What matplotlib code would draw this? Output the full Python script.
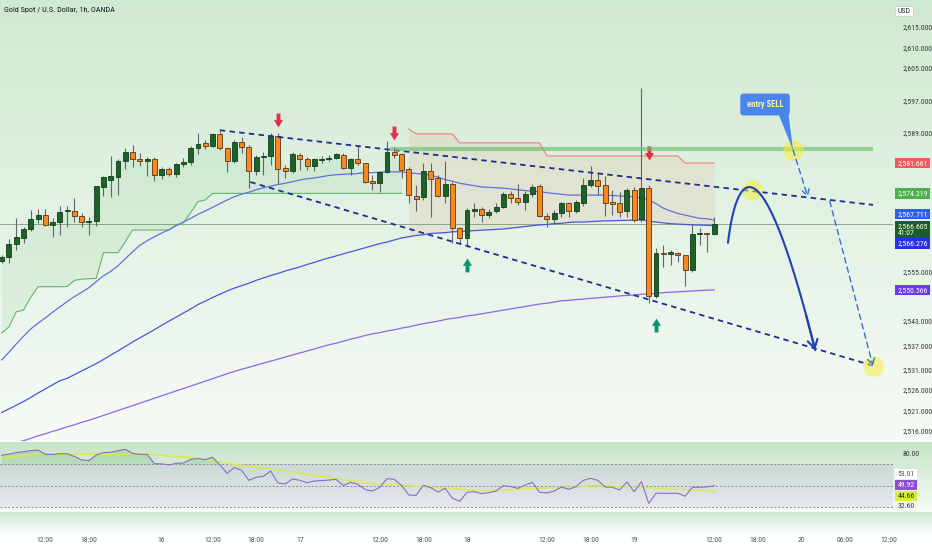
import numpy as np
import matplotlib
matplotlib.use("Agg")
import matplotlib.pyplot as plt
from matplotlib import font_manager as fm
from matplotlib.path import Path
from matplotlib.patches import Polygon
from matplotlib.transforms import blended_transform_factory as btf
from matplotlib.ticker import FuncFormatter

# ---------------- data ----------------
OPENS = [2557.7, 2558.7, 2561.8, 2563.4, 2565.6, 2568.0, 2569.0, 2566.5, 2567.3, 2569.8,
         2570.0, 2568.7, 2567.1, 2567.5, 2575.9, 2577.6, 2578.3, 2582.1, 2584.3, 2582.7,
         2582.1, 2582.6, 2578.8, 2580.1, 2579.0, 2581.4, 2581.8, 2585.4, 2586.5, 2585.9,
         2588.8, 2585.3, 2582.2, 2586.7, 2585.6, 2579.8, 2583.1, 2583.4, 2588.3, 2580.4,
         2579.8, 2583.7, 2582.6, 2581.0, 2582.4, 2582.6, 2583.0, 2583.6, 2580.4, 2582.6,
         2581.6, 2577.3, 2576.8, 2579.4, 2584.4, 2583.8, 2580.1, 2573.6, 2573.3, 2579.8,
         2577.9, 2573.7, 2576.5, 2565.7, 2563.2, 2570.0, 2570.3, 2568.9, 2569.8, 2570.9,
         2574.1, 2573.2, 2572.2, 2574.0, 2576.0, 2568.8, 2567.9, 2569.3, 2571.8, 2569.9,
         2571.8, 2576.3, 2577.5, 2576.3, 2572.0, 2571.8, 2569.9, 2575.05, 2567.9, 2575.6,
         2549.1, 2559.5, 2559.4, 2559.5, 2559.0, 2555.4, 2564.3, 2564.4, 2564.3]
HIGHS = [2559.1, 2563.0, 2568.3, 2566.1, 2570.2, 2570.3, 2570.4, 2568.1, 2571.2, 2571.1,
         2573.0, 2569.3, 2568.5, 2576.1, 2578.5, 2583.4, 2582.6, 2585.3, 2586.1, 2584.0,
         2583.1, 2583.1, 2580.6, 2580.6, 2581.7, 2583.0, 2585.8, 2589.0, 2587.3, 2589.1,
         2589.5, 2585.7, 2587.3, 2588.1, 2586.1, 2583.6, 2584.4, 2589.1, 2589.0, 2581.2,
         2584.3, 2584.2, 2583.1, 2582.8, 2583.4, 2583.6, 2584.0, 2584.2, 2582.8, 2586.1,
         2581.7, 2578.7, 2579.8, 2587.1, 2585.5, 2584.2, 2580.8, 2576.3, 2581.7, 2581.6,
         2578.7, 2582.2, 2577.1, 2566.1, 2570.6, 2571.8, 2571.0, 2570.3, 2571.8, 2574.6,
         2574.8, 2576.5, 2574.8, 2576.5, 2576.5, 2569.3, 2570.2, 2572.2, 2572.2, 2572.6,
         2577.9, 2580.9, 2579.4, 2578.6, 2575.05, 2574.6, 2575.6, 2575.9, 2600.1, 2576.3,
         2560.9, 2561.6, 2560.3, 2559.9, 2559.1, 2566.6, 2565.7, 2564.5, 2568.5]
LOWS = [2557.2, 2557.1, 2560.3, 2562.1, 2565.1, 2566.9, 2566.2, 2563.5, 2564.0, 2565.9,
        2567.2, 2565.9, 2563.9, 2566.3, 2573.6, 2573.3, 2573.8, 2580.2, 2580.8, 2580.9,
        2578.6, 2577.3, 2577.8, 2578.5, 2578.2, 2580.8, 2581.3, 2583.9, 2585.2, 2585.5,
        2584.9, 2579.5, 2581.6, 2584.2, 2575.5, 2578.7, 2578.7, 2581.2, 2576.5, 2577.9,
        2579.1, 2580.0, 2580.0, 2579.8, 2581.7, 2582.2, 2582.6, 2580.1, 2578.7, 2581.2,
        2576.7, 2575.05, 2574.6, 2579.1, 2582.8, 2577.9, 2571.9, 2570.0, 2572.6, 2568.5,
        2573.3, 2571.8, 2562.1, 2561.8, 2561.2, 2568.5, 2567.3, 2568.1, 2569.4, 2570.6,
        2571.8, 2571.4, 2570.2, 2573.4, 2568.4, 2566.1, 2566.9, 2568.5, 2568.5, 2569.3,
        2571.2, 2575.9, 2573.8, 2568.8, 2568.9, 2568.5, 2568.5, 2567.1, 2567.3, 2547.3,
        2548.5, 2556.25, 2556.7, 2557.5, 2551.5, 2555.0, 2561.6, 2559.9, 2564.0]
CLOSES = [2558.7, 2561.8, 2563.5, 2565.6, 2568.0, 2569.0, 2566.5, 2567.3, 2569.7, 2570.1,
          2568.7, 2567.1, 2567.4, 2576.0, 2578.2, 2578.5, 2582.2, 2584.3, 2582.6, 2582.1,
          2582.6, 2578.7, 2580.1, 2579.0, 2581.4, 2581.9, 2585.4, 2586.3, 2585.8, 2588.7,
          2585.3, 2582.2, 2586.7, 2585.5, 2579.8, 2583.1, 2583.4, 2588.3, 2580.2, 2579.8,
          2583.8, 2582.6, 2581.0, 2582.6, 2582.6, 2583.0, 2583.9, 2580.4, 2582.6, 2581.6,
          2577.1, 2576.8, 2579.4, 2584.3, 2583.7, 2580.0, 2573.8, 2572.9, 2579.8, 2577.8,
          2573.7, 2576.5, 2565.7, 2563.2, 2570.2, 2570.3, 2568.9, 2569.7, 2570.9, 2574.1,
          2573.2, 2572.2, 2574.0, 2575.9, 2568.8, 2567.9, 2569.3, 2571.8, 2569.9, 2572.0,
          2576.3, 2577.5, 2576.1, 2571.8, 2571.7, 2569.7, 2575.05, 2567.7, 2575.6, 2549.1,
          2559.5, 2559.3, 2559.8, 2559.0, 2555.4, 2564.3, 2564.4, 2564.3, 2566.605]

MA_FAST = [2533.4, 2535.3, 2537.3, 2539.2, 2541.0, 2542.4, 2543.7, 2545.1, 2546.4, 2547.7,
           2548.9, 2550.0, 2551.1, 2552.6, 2554.0, 2555.1, 2556.5, 2558.2, 2559.9, 2561.5,
           2562.6, 2563.6, 2564.5, 2565.3, 2566.3, 2567.2, 2568.1, 2569.1, 2569.9, 2570.8,
           2571.7, 2572.6, 2573.4, 2574.0, 2574.5, 2575.1, 2575.6, 2576.0, 2576.4, 2576.7,
           2577.1, 2577.5, 2577.8, 2578.0, 2578.3, 2578.6, 2578.8, 2578.9, 2579.0, 2579.1,
           2579.3, 2579.3, 2579.4, 2579.5, 2579.5, 2579.5, 2579.3, 2579.1, 2578.9, 2578.7,
           2578.2, 2577.6, 2577.2, 2576.7, 2576.4, 2576.1, 2575.8, 2575.7, 2575.6, 2575.5,
           2575.3, 2575.1, 2574.9, 2574.8, 2574.6, 2574.4, 2574.2, 2574.0, 2573.8, 2573.8,
           2573.8, 2573.8, 2573.8, 2573.8, 2573.7, 2573.6, 2573.5, 2573.4, 2573.1, 2572.7,
           2571.7, 2570.6, 2569.9, 2569.3, 2568.9, 2568.5, 2568.1, 2568.0, 2567.711]
MA_MID = [2520.5, 2521.4, 2522.3, 2523.2, 2524.2, 2525.3, 2526.3, 2527.3, 2528.3, 2528.9,
          2529.8, 2530.7, 2531.6, 2532.5, 2533.5, 2534.6, 2535.6, 2536.7, 2537.8, 2538.8,
          2539.8, 2540.8, 2541.9, 2542.9, 2543.9, 2544.9, 2545.9, 2547.0, 2547.8, 2548.7,
          2549.5, 2550.3, 2551.0, 2551.6, 2552.2, 2552.9, 2553.5, 2554.1, 2554.6, 2555.2,
          2555.7, 2556.2, 2556.8, 2557.3, 2557.9, 2558.4, 2558.9, 2559.4, 2559.9, 2560.4,
          2560.9, 2561.4, 2561.9, 2562.3, 2562.8, 2563.3, 2563.6, 2563.9, 2564.1, 2564.4,
          2564.5, 2564.6, 2564.8, 2564.9, 2565.0, 2565.1, 2565.2, 2565.3, 2565.4, 2565.5,
          2565.7, 2565.9, 2566.1, 2566.3, 2566.5, 2566.6, 2566.8, 2566.9, 2567.1, 2567.2,
          2567.2, 2567.3, 2567.4, 2567.5, 2567.5, 2567.6, 2567.6, 2567.7, 2567.7, 2567.4,
          2567.2, 2567.0, 2566.8, 2566.7, 2566.6, 2566.5, 2566.45, 2566.4, 2566.276]
MA_SLOW = [2512.0, 2512.5, 2513.1, 2513.6, 2514.2, 2514.8, 2515.3, 2515.9, 2516.4, 2517.0,
           2517.5, 2518.1, 2518.6, 2519.2, 2519.8, 2520.4, 2521.0, 2521.6, 2522.2, 2522.8,
           2523.4, 2524.0, 2524.6, 2525.2, 2525.8, 2526.4, 2527.0, 2527.6, 2528.2, 2528.8,
           2529.4, 2530.0, 2530.6, 2531.1, 2531.6, 2532.1, 2532.6, 2533.1, 2533.6, 2534.1,
           2534.6, 2535.1, 2535.6, 2536.1, 2536.6, 2537.1, 2537.5, 2538.0, 2538.5, 2538.9,
           2539.4, 2539.8, 2540.1, 2540.5, 2540.8, 2541.2, 2541.5, 2541.9, 2542.3, 2542.6,
           2542.9, 2543.3, 2543.6, 2543.8, 2544.2, 2544.4, 2544.7, 2545.0, 2545.3, 2545.6,
           2545.9, 2546.2, 2546.5, 2546.8, 2547.1, 2547.3, 2547.6, 2547.9, 2548.0, 2548.2,
           2548.3, 2548.5, 2548.6, 2548.8, 2548.9, 2549.1, 2549.2, 2549.3, 2549.5, 2549.6,
           2549.7, 2549.9, 2550.0, 2550.1, 2550.2, 2550.3, 2550.4, 2550.5, 2550.566]

# supertrend: bullish segment (bars 0..55) and bearish segment (bars 56..98)
ST_UP = ([2540.0, 2541.5, 2545.2, 2545.6, 2548.8, 2551.35, 2551.35, 2551.35, 2551.35, 2551.4,
          2552.9, 2553.2, 2553.3, 2553.4, 2559.7, 2559.7, 2559.7, 2562.4, 2565.25, 2565.25,
          2565.25, 2565.25, 2565.25, 2565.25, 2566.5, 2567.0, 2569.5, 2572.2, 2572.6]
         + [2574.22] * 27)
ST_DN = [2590.0] + [2588.8] * 6 + [2586.6] * 12 + [2583.4] * 19 + [2581.661] * 5
ST_DN_START = 56

RSI = [78.4, 79.5, 80.9, 81.8, 82.7, 83.4, 79.3, 79.2, 79.9, 79.8,
       77.4, 74.0, 73.4, 78.7, 80.9, 81.2, 82.7, 84.0, 80.2, 79.3,
       79.3, 70.6, 70.4, 69.4, 70.9, 71.2, 74.6, 75.4, 74.3, 76.5,
       69.7, 61.6, 66.9, 64.4, 55.0, 57.8, 58.8, 63.7, 52.5, 51.6,
       56.3, 55.0, 52.8, 54.4, 54.7, 55.3, 55.9, 50.0, 53.1, 51.3,
       46.3, 45.0, 48.5, 56.6, 55.9, 50.3, 41.3, 41.0, 50.3, 48.2,
       44.1, 47.5, 38.2, 35.4, 43.8, 44.4, 42.6, 43.5, 45.0, 50.0,
       49.1, 47.5, 50.6, 53.1, 43.8, 43.2, 45.0, 48.8, 46.6, 49.1,
       55.0, 56.9, 55.0, 48.8, 48.5, 46.0, 53.5, 44.4, 53.8, 33.5,
       42.9, 42.9, 42.9, 42.9, 40.1, 48.5, 48.5, 48.8, 49.92]
RSI_MA = ([75.3, 76.5, 77.4, 78.4, 79.3] + [79.6] * 16 +
          [79.0, 78.4, 77.9, 77.3, 76.8, 76.2, 75.6, 74.6, 73.4,
           72.2, 70.9, 70.0, 69.0, 68.1, 67.2, 66.5, 65.6, 64.7, 63.7,
           62.5, 61.6, 60.6, 59.7, 58.8, 57.8, 56.6, 55.6, 54.7, 53.8,
           52.5, 51.9, 51.6, 51.3, 51.0, 50.6, 50.0, 49.4, 49.1, 48.5,
           47.9, 47.5, 47.2, 46.6, 46.3, 45.7, 45.4, 45.4, 45.7, 46.0,
           46.3, 46.6, 47.2, 47.5, 47.5, 47.9, 48.2, 48.2, 48.5, 48.8,
           49.4, 50.0, 50.0, 49.7, 49.4, 49.1, 49.1, 48.8, 48.5, 47.9,
           47.5, 47.2, 46.9, 46.6, 46.3, 46.0, 45.7, 45.4, 44.66])

PRICE_TICKS = [2615, 2610, 2605, 2597, 2589, 2555, 2543, 2537, 2531, 2526, 2521, 2516]
TIME_TICK_BARS = [6, 12, 22, 29, 35, 41, 52, 58, 64, 75, 81, 87, 98, 104, 110, 116, 122]
TIME_TICK_LABELS = ["12:00", "18:00", "16", "12:00", "18:00", "17", "12:00", "18:00", "18",
                    "12:00", "18:00", "19", "12:00", "18:00", "20", "06:00", "12:00"]
LAST_PRICE = 2566.605
RESISTANCE = 2585.0

# drawing-tool anchors (bar index, price)
TREND_UPPER = [(30.0, 2589.7), (119.85, 2571.4)]
TREND_LOWER = [(34.2, 2577.0), (119.85, 2532.0)]
RESIST_SPAN = (53.4, 119.85)
SELL_ARROWS = [(38, 2592.2), (54, 2589.1), (89, 2584.0)]
BUY_ARROWS = [(64, 2556.7), (90, 2542.0)]
CURVE = [(99.9, 2562.1), (101.3, 2582.4), (105.0, 2584.9), (111.9, 2535.8)]
DASH_A = [(108.85, 2584.85), (110.9, 2573.3)]
DASH_B = [(113.9, 2572.3), (119.85, 2531.9)]
CIRCLES = [(108.85, 2584.85), (103.2, 2575.05), (119.85, 2531.9)]
CALLOUT = (105.0, 2596.0)
CALLOUT_TAIL = [(106.8, 2593.9), (108.2, 2593.9), (108.85, 2584.85)]

# ---------------- fonts ----------------
names = {f.name for f in fm.fontManager.ttflist}
FONT, STRETCH, FS = "DejaVu Sans", "condensed", 5.0
for cand in ["Liberation Sans Narrow", "Roboto Condensed", "Open Sans Condensed"]:
    if cand in names:
        FONT, STRETCH, FS = cand, "normal", 5.6
        break
plt.rcParams["font.family"] = [FONT, "DejaVu Sans"]
plt.rcParams["font.stretch"] = STRETCH

W, H, DPI = 932, 550, 100
fig = plt.figure(figsize=(W / DPI, H / DPI), dpi=DPI)

# ---------------- background gradients ----------------
def hx(hc):
    return np.array([int(hc[i:i + 2], 16) / 255 for i in (1, 3, 5)])

img = np.ones((H, 1, 3))
def grad(y0, y1, c0, c1):
    for yy in range(y0, y1):
        tt = (yy - y0) / max(1, (y1 - y0 - 1))
        img[yy, 0] = (1 - tt) * hx(c0) + tt * hx(c1)
grad(0, 442, "#d0e9d2", "#f7fbf7")
grad(442, 512, "#c6e4c8", "#f6fbf6")
grad(512, 536, "#d0e9d2", "#ffffff")
bg = fig.add_axes([0, 0, 1, 1])
bg.imshow(img, aspect="auto", extent=[0, 1, 0, 1], interpolation="bilinear")
bg.set_xlim(0, 1); bg.set_ylim(0, 1)
bg.set_axis_off()
bg.set_zorder(-10)

XLIM = (-0.234, 122.6)
ax = fig.add_axes([0, 109 / H, 893 / W, 441 / H])
ax.set_facecolor("none")
ax.set_xlim(*XLIM)
ax.set_ylim(2513.53, 2621.62)
for s in ax.spines.values():
    s.set_visible(False)

o, h, l, c = map(np.array, (OPENS, HIGHS, LOWS, CLOSES))
x = np.arange(len(o))

# supertrend fills and lines
up_idx = np.arange(len(ST_UP))
mid = (o + c) / 2
ax.fill_between(up_idx, ST_UP, mid[:len(ST_UP)], color="#4caf50", alpha=0.09, lw=0, zorder=1)
ax.plot(up_idx, ST_UP, color="#5cb060", lw=0.8, alpha=0.9, zorder=2)
dn_idx = np.arange(ST_DN_START, ST_DN_START + len(ST_DN))
ax.fill_between(dn_idx, ST_DN, np.array(MA_MID)[dn_idx], color="#e09a78", alpha=0.15, lw=0, zorder=1)
ax.plot(dn_idx, ST_DN, color="#ef6a6a", lw=0.8, alpha=0.85, zorder=2)

# moving averages
ax.plot(x, MA_FAST, color="#6172dc", lw=0.9, zorder=3)
ax.plot(x, MA_MID, color="#4a56da", lw=0.9, zorder=3)
ax.plot(x, MA_SLOW, color="#8e66e8", lw=0.9, zorder=3)

# last price line
ax.axhline(LAST_PRICE, color="#7f9f80", lw=0.7, alpha=0.9, zorder=2)

# candles
upm = c >= o
ax.vlines(x, l, h, color="#62666a", lw=0.8, zorder=4)
bot = np.minimum(o, c)
hgt = np.maximum(np.abs(c - o), 0.08)
ax.bar(x[upm], hgt[upm], bottom=bot[upm], width=0.68, color="#1d6329",
       edgecolor="#123d19", lw=0.6, zorder=5)
ax.bar(x[~upm], hgt[~upm], bottom=bot[~upm], width=0.68, color="#f8891e",
       edgecolor="#5a3414", lw=0.6, zorder=5)

# arrows (block markers)
down_arrow = Path([(-0.28, 1), (0.28, 1), (0.28, 0.05), (0.66, 0.05), (0, -1),
                   (-0.66, 0.05), (-0.28, 0.05), (-0.28, 1)], closed=True)
up_arrow = Path([(-0.28, -1), (0.28, -1), (0.28, -0.05), (0.66, -0.05), (0, 1),
                 (-0.66, -0.05), (-0.28, -0.05), (-0.28, -1)], closed=True)
for bx, py in SELL_ARROWS:
    ax.plot(bx, py, marker=down_arrow, ms=10, color="#e0304a", mec="none", zorder=8)
for bx, py in BUY_ARROWS:
    ax.plot(bx, py, marker=up_arrow, ms=10, color="#0b9474", mec="none", zorder=8)

# resistance band
ax.hlines(RESISTANCE, *RESIST_SPAN, color="#6cbf70", lw=3.0, alpha=0.65, zorder=9)

# dashed channel
for seg in (TREND_UPPER, TREND_LOWER):
    ax.plot([seg[0][0], seg[1][0]], [seg[0][1], seg[1][1]], color="#1f2d8c", lw=1.3,
            dashes=(3, 2.4), zorder=7)

# yellow circles
for cx, cy in CIRCLES:
    ax.scatter([cx], [cy], s=220, color="#f3ef3c", alpha=0.55, lw=0, zorder=10)

# projection curve (cubic bezier drawing)
P = np.array(CURVE)
t = np.linspace(0, 1, 80)[:, None]
B = ((1 - t) ** 3) * P[0] + 3 * t * (1 - t) ** 2 * P[1] + 3 * t ** 2 * (1 - t) * P[2] + t ** 3 * P[3]
ax.plot(B[:, 0], B[:, 1], color="#1f42b4", lw=1.5, zorder=11, solid_capstyle="round")
ax.annotate("", xy=tuple(B[-1]), xytext=tuple(B[-6]),
            arrowprops=dict(arrowstyle="->,head_length=0.5,head_width=0.3", color="#1f42b4",
                            lw=1.5, shrinkA=0, shrinkB=0, mutation_scale=12), zorder=11)

# dashed projections
for seg in (DASH_A, DASH_B):
    ax.annotate("", xy=seg[1], xytext=seg[0],
                arrowprops=dict(arrowstyle="->,head_length=0.45,head_width=0.25", color="#3a6ed6",
                                lw=1.0, ls=(0, (4, 3)), shrinkA=0, shrinkB=0, mutation_scale=10),
                zorder=11)

# callout
ax.add_patch(Polygon(CALLOUT_TAIL, closed=True, fc="#4a86ea", ec="none", zorder=12))
ax.text(CALLOUT[0], CALLOUT[1], "entry SELL", ha="center", va="center", fontsize=FS + 0.6,
        fontweight="bold", color="#f4f6a6", zorder=13,
        bbox=dict(boxstyle="round,pad=0.75,rounding_size=0.4", fc="#4a86ea", ec="none"))

# price axis
ax.set_xticks([])
ax.set_yticks(PRICE_TICKS)
ax.yaxis.set_major_formatter(FuncFormatter(lambda v, p: f"{v:,.3f}"))
ax.tick_params(axis="y", left=False, right=False, labelleft=False, labelright=True,
               pad=3.5, labelsize=FS, labelcolor="#3a3a3a")

tp = btf(ax.transAxes, ax.transData)
LX = 897.5 / 893
def plabel(y, txt, fc, tc="white", ec="none"):
    ax.text(LX, y, txt, transform=tp, ha="left", va="center", fontsize=FS, color=tc,
            clip_on=False, zorder=20, linespacing=1.25,
            bbox=dict(boxstyle="square,pad=0.3", fc=fc, ec=ec, lw=0.5))

plabel(2618.9, "USD", "#ffffff", "#333333", "#c8c8c8")
plabel(ST_DN[-1], f"{ST_DN[-1]:,.3f}", "#ef5a5f")
plabel(ST_UP[-1] - 0.003, "2,574.219", "#4caf50")
plabel(2569.2, f"{MA_FAST[-1]:,.3f}", "#2f5fe6")
plabel(2565.3, f"{LAST_PRICE:,.3f}\n41:07", "#1b5e20")
plabel(2561.9, f"{MA_MID[-1]:,.3f}", "#2a30e8")
plabel(MA_SLOW[-1], f"{MA_SLOW[-1]:,.3f}", "#6b38ea")

fig.text(4 / W, 1 - 10 / H, "Gold Spot / U.S. Dollar, 1h, OANDA", ha="left", va="center",
         fontsize=FS + 0.3, color="#131722")

# ---------------- RSI pane ----------------
rax = fig.add_axes([0, 38 / H, 893 / W, 69 / H])
rax.set_facecolor("none")
rax.set_xlim(*XLIM)
rax.set_ylim(25.4, 89.9)
for s in rax.spines.values():
    s.set_visible(False)
rax.axhspan(30, 70, color="#7e57c2", alpha=0.11, lw=0, zorder=0)
for lvl in (70, 50, 30):
    rax.axhline(lvl, color="#868993", lw=0.7, ls=(0, (2, 2)), zorder=1)
r = np.array(RSI)
rx = np.arange(len(r))
rax.fill_between(rx, 70, r, where=r >= 70, interpolate=True, color="#43a047", alpha=0.2, lw=0, zorder=1)
rax.plot(np.arange(len(RSI_MA)), RSI_MA, color="#dfe84a", lw=1.2, alpha=0.9, zorder=2)
rax.plot(rx, r, color="#8a6cc8", lw=0.8, zorder=3)

rax.set_yticks([80])
rax.yaxis.set_major_formatter(FuncFormatter(lambda v, p: f"{v:.2f}"))
rax.tick_params(axis="y", left=False, right=False, labelleft=False, labelright=True,
                pad=3.5, labelsize=FS, labelcolor="#3a3a3a")
rax.set_xticks(TIME_TICK_BARS)
rax.set_xticklabels(TIME_TICK_LABELS)
rax.tick_params(axis="x", length=0, pad=18, labelsize=FS, labelcolor="#555555")

rp = btf(rax.transAxes, rax.transData)
def rlabel(y, txt, fc, tc, ec="none"):
    rax.text(LX, y, txt, transform=rp, ha="left", va="center", fontsize=FS, color=tc,
             clip_on=False, zorder=20, bbox=dict(boxstyle="square,pad=0.3", fc=fc, ec=ec, lw=0.4))
rlabel(60.9, "53.01", "#ffffff", "#555555")
rlabel(50.6, f"{RSI[-1]:.2f}", "#8e4fcf", "#ffffff")
rlabel(40.4, f"{RSI_MA[-1]:.2f}", "#d6ef3a", "#333333")
rax.text(LX, 31.0, "32.60", transform=rp, ha="left", va="center", fontsize=FS,
         color="#3a3a3a", clip_on=False)

fig.savefig("out.png", dpi=DPI)
